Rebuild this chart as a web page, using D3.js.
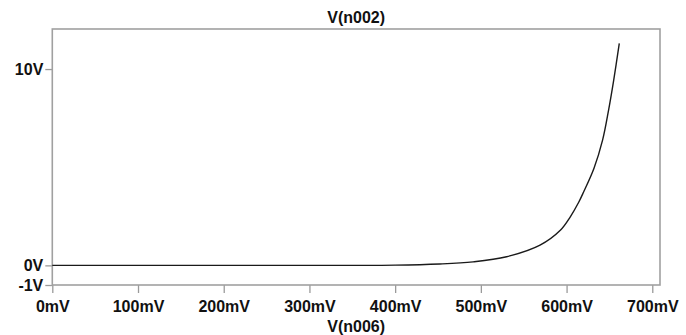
<!DOCTYPE html>
<html>
<head>
<meta charset="utf-8">
<script src="https://cdn.jsdelivr.net/npm/d3@7"></script>
<style>
  body { margin: 0; background: #fff; }
  svg text { font-family: "Liberation Sans", Arial, sans-serif; font-weight: bold; fill: #111; }
</style>
</head>
<body>
<div class="chart"></div>
<script>
// V(n006) in mV, V(n002) in V
const vIn = [0, 100, 200, 300, 400, 452, 491, 530, 569, 593, 604, 614, 620, 632, 642, 649, 655, 661.5];
const vOut = [0, 0, 0, 0, 0.01, 0.07, 0.18, 0.44, 1.03, 1.8, 2.45, 3.2, 3.75, 4.95, 6.38, 7.91, 9.44, 11.31];
const xTicks = [0, 100, 200, 300, 400, 500, 600, 700];
const yTicks = [-1, 0, 10];
const title = 'V(n002)';
const xTitle = 'V(n006)';

const width = 686, height = 335;
const margin = { left: 52.3, right: 26, top: 29, bottom: 50 };

const svg = d3.select('.chart')
  .append('svg')
  .attr('width', width)
  .attr('height', height);

const x = d3.scaleLinear().domain([0, 709]).range([margin.left, width - margin.right]);
const y = d3.scaleLinear().domain([-1, 12.04]).range([height - margin.bottom, margin.top]);

// x axis
const xAxis = svg.append('g')
  .attr('transform', `translate(0,${y(-1)})`)
  .call(d3.axisBottom(x).tickValues(xTicks).tickSize(8).tickPadding(7.5)
    .tickFormat(d => d + 'mV'));
xAxis.select('.domain').remove();

// y axis
const yAxis = svg.append('g')
  .attr('transform', `translate(${x(0)},0)`)
  .call(d3.axisLeft(y).tickValues(yTicks).tickSize(7).tickPadding(2)
    .tickFormat(d => d + 'V'));
yAxis.select('.domain').remove();

svg.selectAll('.tick line').attr('stroke', '#9a9a9a').attr('stroke-width', 1.3);
svg.selectAll('.tick text').style('font-size', '16px').attr('fill', '#111');

// frame
svg.append('rect')
  .attr('x', x(0))
  .attr('y', y(12.04))
  .attr('width', x(709) - x(0))
  .attr('height', y(-1) - y(12.04))
  .attr('fill', 'none')
  .attr('stroke', '#a0a0a0')
  .attr('stroke-width', 1.6);

// trace
const line = d3.line()
  .x((d, i) => x(vIn[i]))
  .y(d => y(d))
  .curve(d3.curveCatmullRom.alpha(0.5));

svg.append('path')
  .datum(vOut)
  .attr('d', line)
  .attr('fill', 'none')
  .attr('stroke', '#1a1a1a')
  .attr('stroke-width', 1.4);

// titles
svg.append('text')
  .text(title)
  .attr('x', (x(0) + x(709)) / 2)
  .attr('y', 23)
  .attr('text-anchor', 'middle')
  .style('font-size', '16px');

svg.append('text')
  .text(xTitle)
  .attr('x', (x(0) + x(709)) / 2)
  .attr('y', 332)
  .attr('text-anchor', 'middle')
  .style('font-size', '16px');
</script>
</body>
</html>
